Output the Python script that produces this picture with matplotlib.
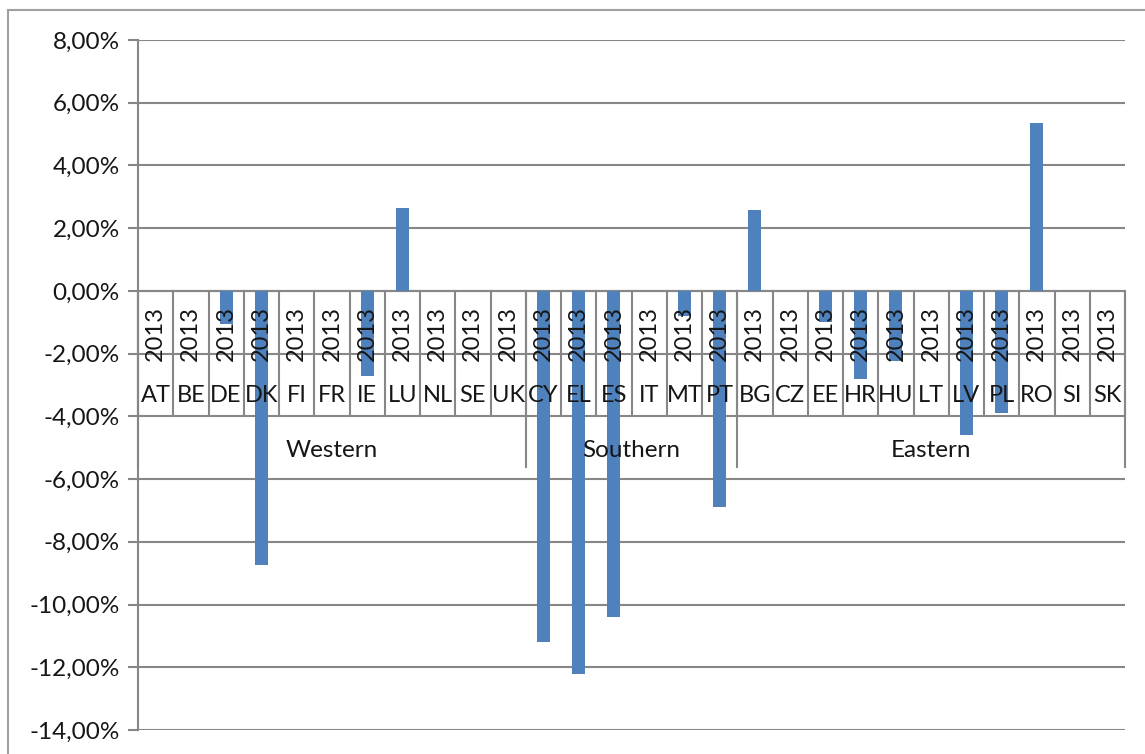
import matplotlib
matplotlib.use("Agg")
import matplotlib.pyplot as plt
from matplotlib.patches import Rectangle
from matplotlib.ticker import FuncFormatter

plt.rcParams['font.family'] = ['Lato', 'DejaVu Sans']

# Data (percent change, 2013)
countries = ['AT', 'BE', 'DE', 'DK', 'FI', 'FR', 'IE', 'LU', 'NL', 'SE', 'UK',
             'CY', 'EL', 'ES', 'IT', 'MT', 'PT',
             'BG', 'CZ', 'EE', 'HR', 'HU', 'LT', 'LV', 'PL', 'RO', 'SI', 'SK']
values = [0.0, 0.0, -1.05, -8.75, 0.0, 0.0, -2.7, 2.65, 0.0, 0.0, 0.0,
          -11.2, -12.2, -10.4, 0.0, -0.8, -6.9,
          2.58, 0.0, -1.0, -2.8, -2.25, 0.0, -4.6, -3.9, 5.35, 0.0, 0.0]
year = '2013'
groups = ['Western', 'Southern', 'Eastern']
group_sizes = [11, 6, 11]

bar_color = '#4F81BD'
grid_color = '#878787'
text_color = '#161616'

fig = plt.figure(figsize=(11.45, 7.54), dpi=100)
ax = fig.add_axes([138/1145, 1 - 730/754, (1125 - 138)/1145, (730 - 40)/754])

# outer chart-area border
fig.patches.append(Rectangle((8/1145, -0.1), 1.2, 1 - 10/754 + 0.1,
                             transform=fig.transFigure, fill=False,
                             edgecolor='#a0a0a0', lw=1.5))

n = len(countries)
x = list(range(n))
ax.bar(x, values, width=0.37, color=bar_color, zorder=2)

ax.set_xlim(-0.5, n - 0.5)
ax.set_ylim(-14, 8)
ax.set_yticks(range(-14, 9, 2))
ax.yaxis.set_major_formatter(FuncFormatter(lambda v, p: f"{v:.2f}%".replace('.', ',')))
ax.yaxis.grid(True, color=grid_color, lw=1.5, zorder=0)
ax.set_axisbelow(True)
ax.set_xticks([])
for s in ['top', 'right', 'bottom']:
    ax.spines[s].set_visible(False)
ax.spines['left'].set_color(grid_color)
ax.spines['left'].set_linewidth(1.5)
ax.tick_params(axis='y', length=7, width=1.5, color=grid_color,
               labelsize=17.5, labelcolor=text_color, pad=6)

# multi-level category axis at y = 0
ax.axhline(0, color=grid_color, lw=1.5, zorder=1)
for i in range(n + 1):
    ax.plot([i - 0.5, i - 0.5], [0, -4.0], color=grid_color, lw=1.5, zorder=1,
            clip_on=False)
edges = [0]
for g in group_sizes:
    edges.append(edges[-1] + g)
for e in edges:
    ax.plot([e - 0.5, e - 0.5], [0, -5.6], color=grid_color, lw=1.5, zorder=1,
            clip_on=False)

for i, c in enumerate(countries):
    ax.text(i, -1.35, year, rotation=90, ha='center', va='center',
            fontsize=17, color=text_color, zorder=3)
    ax.text(i, -3.35, c, ha='center', va='center', fontsize=17,
            color=text_color, zorder=3)

for g, a, b in zip(groups, edges[:-1], edges[1:]):
    ax.text((a + b - 1) / 2, -5.1, g, ha='center', va='center',
            fontsize=17.5, color=text_color, zorder=3)

fig.savefig('out.png', dpi=100)
